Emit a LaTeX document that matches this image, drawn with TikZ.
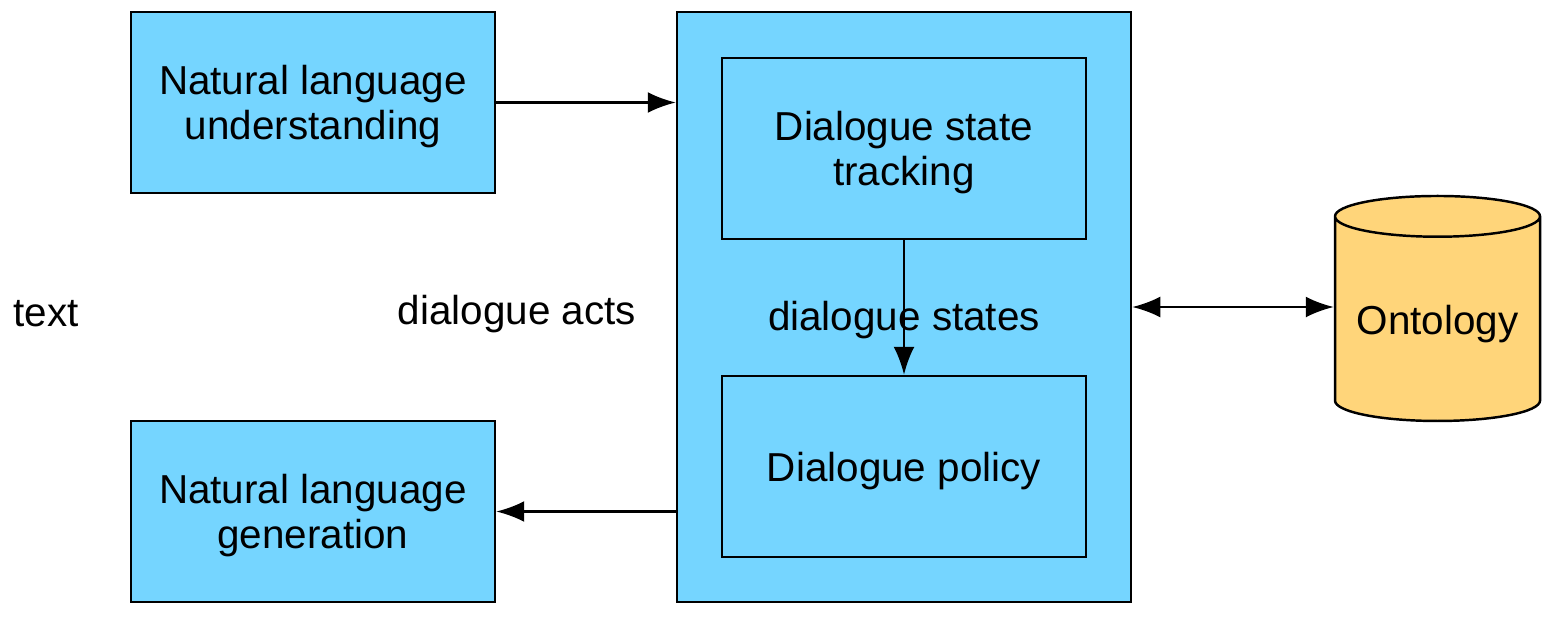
\documentclass[tikz,border=0pt]{standalone}
\usepackage{fontspec}
\setmainfont{Liberation Sans}
\usetikzlibrary{positioning,shapes.geometric,arrows.meta}
\definecolor{boxblue}{RGB}{117,213,255}
\definecolor{dbyellow}{RGB}{255,213,122}
\tikzset{
    module/.style={draw, fill=boxblue, line width=0.7pt, minimum width=3.64cm, minimum height=1.81cm, align=center, text depth=0pt},
    database/.style={cylinder, shape border rotate=90, aspect=0.22, draw, fill=dbyellow, line width=0.7pt, minimum width=2.05cm, minimum height=2.25cm},
    flow/.style={-{Latex[length=2.8mm,width=2.1mm]}, line width=0.75pt},
    label/.style={inner sep=0pt}
}
\begin{document}
\begin{tikzpicture}[font=\fontsize{11.5}{12.8}\selectfont]
    \useasboundingbox (0,0) rectangle (15.57,6.17);
    \node[module] (nlu) at (3.13,5.145) {Natural language\\understanding};
    \node[module] (nlg) at (3.13,1.055) {Natural language\\generation};
    \node[module, minimum width=4.54cm, minimum height=5.90cm] (dm) at (9.04,3.10) {};
    \node[module] (dst) at (9.04,4.685) {Dialogue state\\tracking};
    \node[module] (pol) at (9.04,1.505) {Dialogue policy};
    \node[database] (onto) at (14.375,2.93) {Ontology};
    \node[label] (txt) at (0.46,3.03) {text};
    \node[label] (acts) at (5.17,3.03) {dialogue acts};
    \node[label] (states) at (9.04,2.97) {dialogue states};
    % connectors
    \draw[flow] (nlu.east) -- (nlu.east -| dm.west);
    \draw[flow] (dm.west |- nlg.east) -- (nlg.east);
    \draw[flow] (dst) -- (pol);
    \draw[flow, {Latex[length=2.8mm,width=2.1mm]}-{Latex[length=2.8mm,width=2.1mm]}] (dm.east) -- (dm.east -| onto.west);
\end{tikzpicture}
\end{document}
